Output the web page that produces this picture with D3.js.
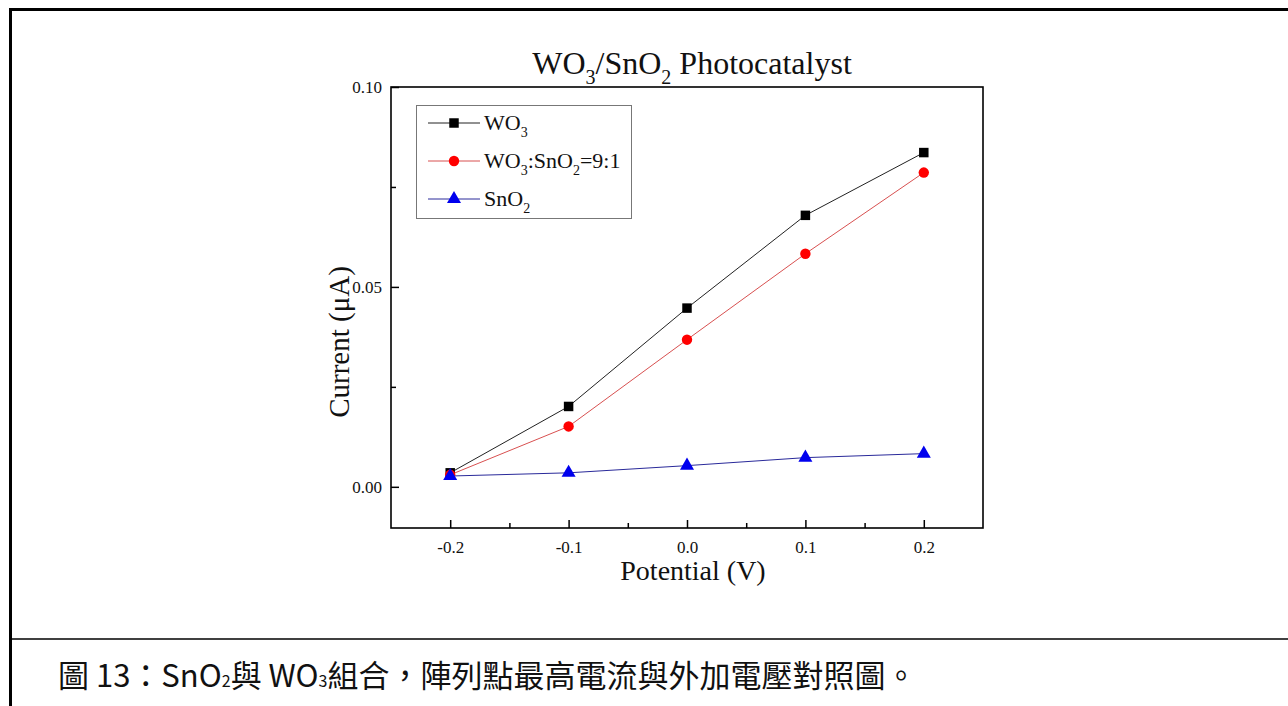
<!DOCTYPE html>
<html>
<head>
<meta charset="utf-8">
<script src="https://cdn.jsdelivr.net/npm/d3@7"></script>
<style>
  body { margin: 0; background: #fff; }
  svg { display: block; }
  .serif { font-family: "Liberation Serif", "DejaVu Serif", serif; }
</style>
</head>
<body>
<svg width="1288" height="706"></svg>
<script>
// data
var potential = [-0.2, -0.1, 0.0, 0.1, 0.2];
var wo3 = [0.0035, 0.0201, 0.0447, 0.0679, 0.0836];
var wo3sno2 = [0.0030, 0.0151, 0.0368, 0.0583, 0.0786];
var sno2 = [0.0027, 0.0035, 0.0053, 0.0073, 0.0083];
var xTicks = [-0.2, -0.1, 0.0, 0.1, 0.2];
var xMinor = [-0.15, -0.05, 0.05, 0.15];
var yTicks = [0.0, 0.05, 0.1];
var yMinor = [0.025, 0.075];

var svg = d3.select("svg");

// page frame
svg.append("line").attr("x1", 9).attr("x2", 1288).attr("y1", 9.5).attr("y2", 9.5)
  .attr("stroke", "#000").attr("stroke-width", 3);
svg.append("line").attr("x1", 10.5).attr("x2", 10.5).attr("y1", 8).attr("y2", 706)
  .attr("stroke", "#000").attr("stroke-width", 3);
svg.append("line").attr("x1", 12).attr("x2", 1288).attr("y1", 639).attr("y2", 639)
  .attr("stroke", "#000").attr("stroke-width", 1.5);

var margin = { top: 87, left: 391 };
var width = 983 - 391;
var height = 528 - 87;

var x = d3.scaleLinear().domain([-0.25, 0.25]).range([0, width]);
var y = d3.scaleLinear().domain([-0.0103, 0.1]).range([height, 0]);

var g = svg.append("g")
  .attr("transform", "translate(" + margin.left + "," + margin.top + ")");

// axes
var xAxis = g.append("g")
  .attr("transform", "translate(0," + height + ")")
  .call(d3.axisBottom(x).tickValues(xTicks).tickSize(-8).tickPadding(13)
    .tickFormat(d3.format(".1f")));
g.append("g")
  .attr("transform", "translate(0," + height + ")")
  .call(d3.axisBottom(x).tickValues(xMinor).tickSize(-5).tickFormat(""));

var yAxis = g.append("g")
  .call(d3.axisLeft(y).tickValues(yTicks).tickSize(-8).tickPadding(9)
    .tickFormat(d3.format(".2f")));
g.append("g")
  .call(d3.axisLeft(y).tickValues(yMinor).tickSize(-5).tickFormat(""));

g.selectAll(".domain").remove();
g.selectAll(".tick line").attr("stroke", "#000").attr("stroke-width", 1.5);
xAxis.selectAll(".tick text").text(function (d) {
  return d3.format(".1f")(d).replace("\u2212", "-");
});
g.selectAll(".tick text")
  .attr("fill", "#111")
  .attr("font-size", 17)
  .attr("font-family", "Liberation Serif, serif");

g.append("rect")
  .attr("width", width).attr("height", height)
  .attr("fill", "none").attr("stroke", "#000").attr("stroke-width", 1.6);

// series
var series = [
  { name: "WO3", values: wo3, line: "#222", fill: "#000", shape: d3.symbolSquare, size: 90 },
  { name: "WO3:SnO2=9:1", values: wo3sno2, line: "#d85050", fill: "#ff0000", shape: d3.symbolCircle, size: 85 },
  { name: "SnO2", values: sno2, line: "#2a2a9a", fill: "#0000ee", shape: d3.symbolTriangle, size: 85 }
];

var line = d3.line()
  .x(function (d, i) { return x(potential[i]); })
  .y(function (d) { return y(d); });

series.forEach(function (s) {
  g.append("path")
    .attr("d", line(s.values))
    .attr("fill", "none")
    .attr("stroke", s.line)
    .attr("stroke-width", 1);
});

series.forEach(function (s) {
  g.selectAll(null)
    .data(s.values)
    .enter()
    .append("path")
    .attr("d", d3.symbol().type(s.shape).size(s.size))
    .attr("transform", function (d, i) {
      return "translate(" + x(potential[i]) + "," + y(d) + ")";
    })
    .attr("fill", s.fill);
});

// legend
var legend = svg.append("g").attr("class", "serif");
legend.append("rect")
  .attr("x", 416.5).attr("y", 105.5).attr("width", 215).attr("height", 113)
  .attr("fill", "#fff").attr("stroke", "#777").attr("stroke-width", 1);

var legendRows = [123, 161, 199];
series.forEach(function (s, i) {
  var ly = legendRows[i];
  legend.append("line").attr("x1", 428).attr("x2", 480).attr("y1", ly).attr("y2", ly)
    .attr("stroke", s.line).attr("stroke-width", 1);
  legend.append("path")
    .attr("d", d3.symbol().type(s.shape).size(s.size))
    .attr("transform", "translate(454," + ly + ")")
    .attr("fill", s.fill);
});

// text with chemical subscripts: arrays mark the subscript pieces
function chem(sel, parts, sub) {
  var down = false;
  parts.forEach(function (p) {
    if (typeof p === "string") {
      var t = sel.append("tspan").text(p);
      if (down) t.attr("dy", -sub.dy);
      down = false;
    } else {
      sel.append("tspan").attr("dy", sub.dy).style("font-size", sub.size + "px").text(p[0]);
      down = true;
    }
  });
}

var legendLabels = [
  ["WO", ["3"]],
  ["WO", ["3"], ":SnO", ["2"], "=9:1"],
  ["SnO", ["2"]]
];
legendLabels.forEach(function (parts, i) {
  var t = legend.append("text")
    .attr("x", 484).attr("y", legendRows[i] + 7)
    .style("font-size", "22px").attr("fill", "#111");
  chem(t, parts, { dy: 7, size: 14 });
});

// title
var title = svg.append("text").attr("class", "serif")
  .attr("x", 692).attr("y", 74).attr("text-anchor", "middle")
  .style("font-size", "32px").attr("fill", "#111");
chem(title, ["WO", ["3"], "/SnO", ["2"], " Photocatalyst"], { dy: 10, size: 20 });

// axis titles
svg.append("text").attr("class", "serif")
  .attr("x", 693).attr("y", 580).attr("text-anchor", "middle")
  .style("font-size", "28px").attr("fill", "#111")
  .text("Potential (V)");

svg.append("text").attr("class", "serif")
  .attr("transform", "translate(349,342) rotate(-90)")
  .attr("text-anchor", "middle")
  .style("font-size", "29px").attr("fill", "#111")
  .text("Current (\u03bcA)");

// caption
var cap = svg.append("text")
  .attr("x", 58).attr("y", 687)
  .style("font-family", "\"Noto Sans CJK TC\", sans-serif")
  .style("font-size", "31px").attr("fill", "#111");
cap.append("tspan").text("圖 13：SnO");
cap.append("tspan").style("font-size", "16px").text("2");
cap.append("tspan").text("與 WO");
cap.append("tspan").style("font-size", "16px").text("3");
cap.append("tspan").text("組合，陣列點最高電流與外加電壓對照圖。");
</script>
</body>
</html>
